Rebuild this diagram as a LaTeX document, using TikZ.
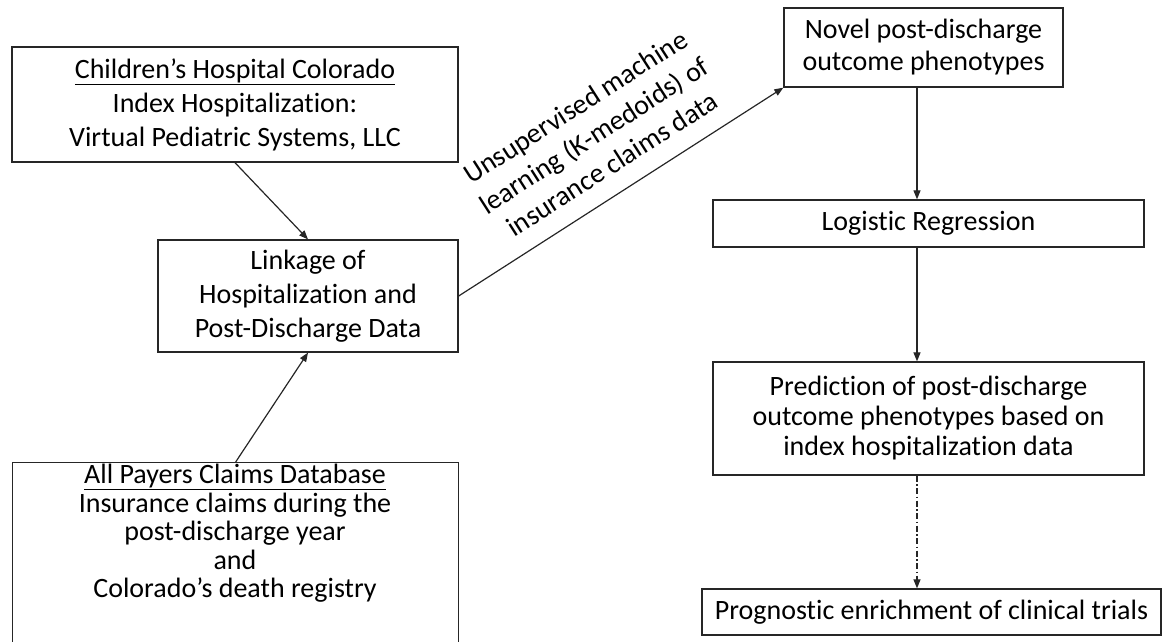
\documentclass[tikz,border=0pt]{standalone}
\usepackage{fontspec}
\setmainfont{Carlito}[Ligatures=NoCommon]
\usetikzlibrary{arrows.meta,calc}
\begin{document}
\begin{tikzpicture}[x=1pt,y=-1pt,
  box/.style={draw=black!85, line width=1.3pt, inner sep=0pt, align=center,
    font=\fontsize{28pt}{34pt}\selectfont},
  arr/.style={draw=black!85, line width=1.2pt, -{Triangle[length=9pt,width=7pt]}},
  dashdot/.style={dash pattern=on 6pt off 2.5pt on 1.5pt off 2.5pt}]
\useasboundingbox (0,0) rectangle (1162,641);
% left column
\node[box, minimum width=446pt, minimum height=115pt] (chco) at (235,104.5)
  {\underline{Children’s Hospital Colorado}\\Index Hospitalization:\\Virtual Pediatric Systems, LLC};
\node[box, minimum width=300pt, minimum height=112pt] (link) at (308,296)
  {Linkage of\\Hospitalization and\\Post-Discharge Data};
\node[box, minimum width=446pt, minimum height=240pt, anchor=north west] (apcd) at (12,462) {};
\node[align=center, anchor=north, inner sep=0pt, font=\fontsize{28pt}{28.5pt}\selectfont] (apcdtext) at (235,464)
  {\underline{All Payers Claims Database}\\Insurance claims during the\\post-discharge year\\and\\Colorado’s death registry};
% right column
\node[box, minimum width=279pt, minimum height=79pt, font=\fontsize{28pt}{32pt}\selectfont] (novel) at (923.5,47.5)
  {Novel post-discharge\\outcome phenotypes};
\node[box, minimum width=431pt, minimum height=47pt] (logit) at (928.5,223.5) {Logistic Regression};
\node[box, minimum width=431pt, minimum height=113pt, font=\fontsize{28pt}{30pt}\selectfont] (pred) at (928.5,418.5)
  {Prediction of post-discharge\\outcome phenotypes based on\\index hospitalization data};
\node[box, minimum width=459pt, minimum height=46pt] (prog) at (931.5,612) {Prognostic enrichment of clinical trials};
\coordinate (ax) at (917,0);
% connectors
\draw[arr] (chco.south) -- (link.north);
\draw[arr] (apcd.north) -- (link.south);
\draw[arr] (link.east) -- node[sloped, above=18pt, pos=0.52, align=center, inner sep=0pt,
  font=\fontsize{28pt}{34pt}\selectfont]
  {Unsupervised machine\\learning (K-medoids) of\\insurance claims data} (novel.south west);
\draw[arr] (novel.south -| ax) -- (logit.north -| ax);
\draw[arr] (logit.south -| ax) -- (pred.north -| ax);
\draw[arr, dashdot] (pred.south -| ax) -- (prog.north -| ax);
\end{tikzpicture}
\end{document}
